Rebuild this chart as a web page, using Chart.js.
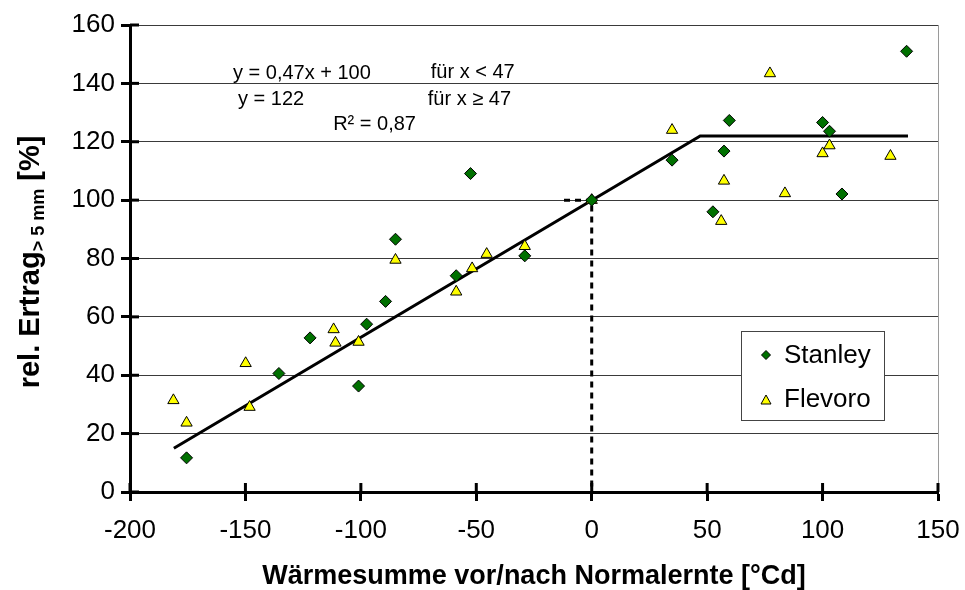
<!DOCTYPE html>
<html>
<head>
<meta charset="utf-8">
<script src="https://cdn.jsdelivr.net/npm/chart.js@4.4.1/dist/chart.umd.min.js"></script>
<style>
    html, body { margin: 0; padding: 0; background: #fff; }
    #wrap { width: 965px; height: 590px; }
</style>
</head>
<body>
<div id="wrap"><canvas id="chart" width="965" height="590"></canvas></div>
<script>
// Data
const stanleyX = [-175.5, -135.5, -122, -101, -97.5, -89.3, -85, -58.7, -52.5, -29, 0, 34.8, 52.5, 57.3, 59.6, 100, 103, 108.4, 136.4];
const stanleyY = [11.7, 40.6, 52.8, 36.3, 57.5, 65.3, 86.6, 74.1, 109.1, 80.9, 100, 113.7, 96, 116.8, 127.3, 126.6, 123.6, 102.1, 151];

const flevoroX = [-181.2, -175.5, -149.9, -148.2, -111.8, -111, -101, -85, -58.7, -51.8, -45.5, -29, 0, 34.8, 56.1, 57.3, 77.2, 83.7, 100, 103, 129.4];
const flevoroY = [31.4, 23.7, 44.1, 29.1, 55.7, 51.1, 51.4, 79.5, 68.6, 76.6, 81.5, 84.2, 100, 124, 92.8, 106.6, 143.4, 102.3, 116, 118.7, 115.1];

// Broken-stick fit: y = 0,47x + 100 (x < 47), y = 122 (x >= 47)
const fitX = [-181, 47, 137];
const fitY = [15, 122, 122];

// Reference marker at x = 0 / y = 100
const refX = [-12, 0, 0];
const refY = [100, 100, 0];

const xTicks = [-200, -150, -100, -50, 0, 50, 100, 150];
const yTicks = [0, 20, 40, 60, 80, 100, 120, 140, 160];

const seriesNames = ['Stanley', 'Flevoro'];
const fitLabels = ['y = 0,47x + 100', 'für x < 47', 'y = 122', 'für x ≥ 47', 'R² = 0,87'];
const xTitle = 'Wärmesumme vor/nach Normalernte [°Cd]';

const FONT = "'Liberation Sans', Arial, sans-serif";
const GREEN = '#007000';
const YELLOW = '#ffff00';

function toPoints(xs, ys) {
    return xs.map((x, i) => ({ x: x, y: ys[i] }));
}

// Helper to draw a diamond marker
function drawDiamond(ctx, x, y, r) {
    ctx.beginPath();
    ctx.moveTo(x, y - r);
    ctx.lineTo(x + r, y);
    ctx.lineTo(x, y + r);
    ctx.lineTo(x - r, y);
    ctx.closePath();
    ctx.fillStyle = GREEN;
    ctx.fill();
    ctx.lineWidth = 1;
    ctx.strokeStyle = '#000';
    ctx.stroke();
}

// Helper to draw a triangle marker
function drawTriangle(ctx, x, y, r) {
    ctx.beginPath();
    ctx.moveTo(x, y - r);
    ctx.lineTo(x + r, y + r * 0.8);
    ctx.lineTo(x - r, y + r * 0.8);
    ctx.closePath();
    ctx.fillStyle = YELLOW;
    ctx.fill();
    ctx.lineWidth = 1;
    ctx.strokeStyle = '#000';
    ctx.stroke();
}

// Plugin for cross tick marks, titles, fit text and the inside legend
const decorPlugin = {
    id: 'decor',
    afterDraw(chart) {
        const ctx = chart.ctx;
        const xs = chart.scales.x;
        const ys = chart.scales.y;
        const area = chart.chartArea;
        ctx.save();

        // inner half of the cross tick marks
        ctx.strokeStyle = '#000';
        ctx.lineWidth = 3;
        ys.ticks.forEach(t => {
            const py = ys.getPixelForValue(t.value);
            ctx.beginPath();
            ctx.moveTo(area.left, py);
            ctx.lineTo(area.left + 9, py);
            ctx.stroke();
        });
        xs.ticks.forEach(t => {
            const px = xs.getPixelForValue(t.value);
            ctx.beginPath();
            ctx.moveTo(px, area.bottom);
            ctx.lineTo(px, area.bottom - 9);
            ctx.stroke();
        });

        // fit equation text
        ctx.fillStyle = '#000';
        ctx.font = '20px ' + FONT;
        ctx.textAlign = 'left';
        ctx.textBaseline = 'middle';
        const textPos = [[-155.4, 143.5], [-69.7, 143.8], [-153.2, 134.6], [-71, 134.6], [-112, 126]];
        fitLabels.forEach((txt, i) => {
            ctx.fillText(txt, xs.getPixelForValue(textPos[i][0]), ys.getPixelForValue(textPos[i][1]));
        });

        // legend box
        const lx = area.right - 197;
        const ly = area.top + 306;
        ctx.fillStyle = '#fff';
        ctx.fillRect(lx, ly, 143, 89);
        ctx.lineWidth = 1;
        ctx.strokeStyle = '#444';
        ctx.strokeRect(lx + 0.5, ly + 0.5, 143, 89);
        drawDiamond(ctx, lx + 25, ly + 24, 4.5);
        drawTriangle(ctx, lx + 25, ly + 69, 5);
        ctx.fillStyle = '#000';
        ctx.font = '26px ' + FONT;
        ctx.textBaseline = 'middle';
        ctx.fillText(seriesNames[0], lx + 43, ly + 25);
        ctx.fillText(seriesNames[1], lx + 43, ly + 69);

        // x axis title
        ctx.font = 'bold 27px ' + FONT;
        ctx.textAlign = 'center';
        ctx.fillText(xTitle, (area.left + area.right) / 2, 577);

        // y axis title with subscript
        ctx.translate(31, 262);
        ctx.rotate(-Math.PI / 2);
        const bigFont = 'bold 29px ' + FONT;
        const smallFont = 'bold 18px ' + FONT;
        const parts = [['rel. Ertrag', bigFont, 0], ['> 5 mm', smallFont, 8], [' [%]', bigFont, 0]];
        let total = 0;
        parts.forEach(p => { ctx.font = p[1]; total += ctx.measureText(p[0]).width; });
        let cx = -total / 2;
        ctx.textAlign = 'left';
        parts.forEach(p => {
            ctx.font = p[1];
            ctx.fillText(p[0], cx, p[2]);
            cx += ctx.measureText(p[0]).width;
        });

        ctx.restore();
    }
};

new Chart(document.getElementById('chart'), {
    type: 'scatter',
    data: {
        datasets: [
            {
                label: seriesNames[0],
                data: toPoints(stanleyX, stanleyY),
                pointStyle: 'rectRot',
                pointRadius: 6,
                backgroundColor: GREEN,
                borderColor: '#000',
                borderWidth: 1,
                order: 0
            },
            {
                label: seriesNames[1],
                data: toPoints(flevoroX, flevoroY),
                pointStyle: 'triangle',
                pointRadius: 6.5,
                backgroundColor: YELLOW,
                borderColor: '#000',
                borderWidth: 1,
                order: 0
            },
            {
                type: 'line',
                label: 'fit',
                data: toPoints(fitX, fitY),
                borderColor: '#000',
                borderWidth: 3,
                pointRadius: 0,
                fill: false,
                order: 1
            },
            {
                type: 'line',
                label: 'ref',
                data: toPoints(refX, refY),
                borderColor: '#000',
                borderWidth: 3,
                borderDash: [6, 5],
                pointRadius: 0,
                fill: false,
                order: 2
            }
        ]
    },
    options: {
        responsive: false,
        animation: false,
        layout: { padding: { left: 0, top: 25, right: 27, bottom: 0 } },
        plugins: {
            legend: { display: false },
            tooltip: { enabled: false }
        },
        scales: {
            x: {
                type: 'linear',
                min: -200,
                max: 150,
                afterFit(scale) {
                    scale.height = 98;
                    scale.paddingLeft = 0;
                    scale.paddingRight = 0;
                },
                afterBuildTicks(scale) { scale.ticks = xTicks.map(v => ({ value: v })); },
                border: { color: '#000', width: 3 },
                grid: {
                    color: c => (c.tick && c.tick.value === 150 ? '#9a9a9a' : 'rgba(0,0,0,0)'),
                    lineWidth: 1,
                    tickLength: 9,
                    tickColor: '#000',
                    tickWidth: 3
                },
                ticks: {
                    color: '#000',
                    font: { family: FONT, size: 26 },
                    padding: 14,
                    maxRotation: 0
                }
            },
            y: {
                type: 'linear',
                min: 0,
                max: 160,
                afterFit(scale) {
                    scale.width = 130;
                    scale.paddingTop = 0;
                    scale.paddingBottom = 0;
                },
                afterBuildTicks(scale) { scale.ticks = yTicks.map(v => ({ value: v })); },
                border: { color: '#000', width: 3 },
                grid: {
                    color: '#3a3a3a',
                    lineWidth: 1,
                    tickLength: 9,
                    tickColor: '#000',
                    tickWidth: 3
                },
                ticks: {
                    color: '#000',
                    font: { family: FONT, size: 26 },
                    padding: 6
                }
            }
        }
    },
    plugins: [decorPlugin]
});
</script>
</body>
</html>
